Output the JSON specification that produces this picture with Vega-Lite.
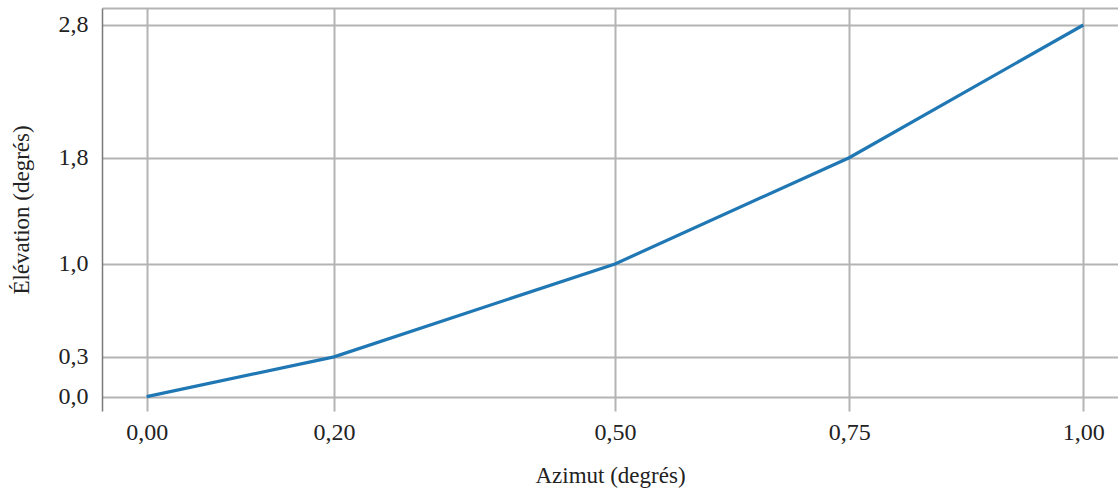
{
  "$schema": "https://vega.github.io/schema/vega-lite/v6.json",
  "width": 1016,
  "height": 403,
  "autosize": {"type": "none"},
  "padding": {"left": 102, "top": 8, "right": 0, "bottom": 82},
  "background": "white",
  "config": {
    "view": {"stroke": null},
    "font": "Liberation Serif"
  },
  "data": {
    "values": [
      {"azimut": 0.0, "elevation": 0.0},
      {"azimut": 0.2, "elevation": 0.3},
      {"azimut": 0.5, "elevation": 1.0},
      {"azimut": 0.75, "elevation": 1.8},
      {"azimut": 1.0, "elevation": 2.8}
    ]
  },
  "mark": {"type": "line", "color": "#1f77b4", "strokeWidth": 3.2, "clip": true},
  "encoding": {
    "x": {
      "field": "azimut",
      "type": "quantitative",
      "scale": {"domain": [-0.0477, 1.037], "nice": false, "zero": false},
      "axis": {
        "title": "Azimut (degrés)",
        "values": [0, 0.2, 0.5, 0.75, 1.0],
        "labelExpr": "replace(format(datum.value, '.2f'), '.', ',')",
        "labelFont": "Liberation Serif",
        "labelFontSize": 24,
        "labelColor": "#222222",
        "labelPadding": 9,
        "titleFont": "Liberation Serif",
        "titleFontSize": 23,
        "titleFontWeight": "normal",
        "titleColor": "#222222",
        "titlePadding": 20,
        "ticks": false,
        "domain": false,
        "grid": true,
        "gridColor": "#b4b4b4",
        "gridWidth": 2
      }
    },
    "y": {
      "field": "elevation",
      "type": "quantitative",
      "scale": {"domain": [-0.108, 2.928], "nice": false, "zero": false},
      "axis": {
        "title": "Élévation (degrés)",
        "values": [0, 0.3, 1.0, 1.8, 2.8, 2.928],
        "labelExpr": "datum.value > 2.9 ? '' : replace(format(datum.value, '.1f'), '.', ',')",
        "labelFont": "Liberation Serif",
        "labelFontSize": 24,
        "labelColor": "#222222",
        "labelPadding": 14,
        "titleFont": "Liberation Serif",
        "titleFontSize": 23,
        "titleFontWeight": "normal",
        "titleColor": "#222222",
        "titlePadding": 25,
        "ticks": false,
        "domain": true,
        "domainColor": "#7a7a7a",
        "domainWidth": 1.5,
        "grid": true,
        "gridColor": "#b4b4b4",
        "gridWidth": 2
      }
    }
  }
}
